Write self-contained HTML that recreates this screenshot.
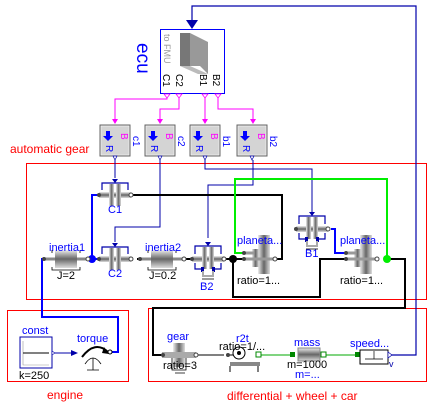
<!DOCTYPE html>
<html><head><meta charset="utf-8"><style>
body{margin:0;background:#fff}
svg{display:block;font-family:"Liberation Sans",sans-serif}
</style></head><body>
<svg width="433" height="406" viewBox="0 0 433 406" xmlns="http://www.w3.org/2000/svg">
<defs>
<linearGradient id="cyl" x1="0" y1="0" x2="0" y2="1"><stop offset="0" stop-color="#eee"/><stop offset="0.5" stop-color="#666"/><stop offset="1" stop-color="#ddd"/></linearGradient>
<linearGradient id="cylh" x1="0" y1="0" x2="1" y2="0"><stop offset="0" stop-color="#eee"/><stop offset="0.5" stop-color="#666"/><stop offset="1" stop-color="#ddd"/></linearGradient>
<g id="clutch">
<rect x="-16" y="-3" width="32" height="6" fill="url(#cyl)"/>
<rect x="-6" y="-11" width="5" height="22" fill="url(#cylh)"/><rect x="1" y="-11" width="5" height="22" fill="url(#cylh)"/>
<path d="M-13,-5 V-12 H13 V-5" fill="none" stroke="#00a" stroke-width="1.2"/>
<path d="M-3,-16 h6 l-3,4z" fill="#00a"/>
<circle cx="-16" cy="0" r="2" fill="#444"/><circle cx="16" cy="0" r="2" fill="#fff" stroke="#444"/>
</g>
<g id="brake">
<rect x="-16" y="-3" width="32" height="6" fill="url(#cyl)"/>
<rect x="-6" y="-12" width="5" height="22" fill="url(#cylh)"/><rect x="1" y="-12" width="5" height="22" fill="url(#cylh)"/>
<path d="M-13,-5 V-13 H13 V-5 M-13,4 V10 H-5 M13,4 V10 H5" fill="none" stroke="#00a" stroke-width="1.2"/>
<rect x="-7" y="8" width="3" height="5" fill="#00a"/><rect x="4" y="8" width="3" height="5" fill="#00a"/>
<path d="M-3,-17 h6 l-3,4z" fill="#00a"/>
<path d="M-5,12 V17 H5 V12" fill="none" stroke="#aaa" stroke-width="2"/>
<path d="M-6,20 h12" stroke="#000" stroke-width="0.8"/>
<circle cx="-16" cy="0" r="2" fill="#444"/><circle cx="16" cy="0" r="2" fill="#fff" stroke="#444"/>
</g>
<g id="inertia">
<rect x="-22" y="-1.5" width="44" height="3" fill="#888"/>
<rect x="-11" y="-9" width="22" height="18" fill="url(#cyl)"/>
<path d="M-14,8 V11 H14 V8 M-14,-9 v3 M14,-9 v3" fill="none" stroke="#000" stroke-width="0.8"/>
<circle cx="-22" cy="0" r="2" fill="#444"/><circle cx="22" cy="0" r="2" fill="#fff" stroke="#444"/>
</g>
<g id="planet">
<rect x="-2" y="-24" width="12" height="39" fill="url(#cylh)"/>
<rect x="-8" y="-10" width="7" height="18" fill="url(#cylh)"/>
<rect x="-16" y="-1.5" width="30" height="3" fill="#999"/>
<rect x="-16" y="-7.5" width="10" height="3" fill="#999"/>
<circle cx="-16" cy="-6" r="2" fill="#444"/><circle cx="-16" cy="0" r="2" fill="#444"/><circle cx="15" cy="0" r="2" fill="#fff" stroke="#444"/>
</g>
<g id="ctrl">
<rect x="0" y="0" width="30" height="31" fill="#ccc" stroke="#666"/>
<rect x="1" y="1" width="28" height="29" fill="#d4d4d4" stroke="#fff" stroke-width="0.5"/>
<path d="M6,6 h4 v5 h3 l-5,5 l-5,-5 h3z" fill="#00f"/>
<text x="21" y="8" font-size="10" fill="#f0f" transform="rotate(90 21 8)">B</text>
<text x="6" y="20" font-size="10" fill="#00f" transform="rotate(90 6 20)">R</text>
<path d="M13,31 l2,4 l2,-4z" fill="#fff" stroke="#00a" stroke-width="0.7"/>
</g>
</defs>

<rect x="26.5" y="163.5" width="400" height="136" fill="none" stroke="#f00"/>
<rect x="7.5" y="310.5" width="121" height="71" fill="none" stroke="#f00"/>
<rect x="148.5" y="308.5" width="278" height="73" fill="none" stroke="#f00"/>
<text x="10" y="153" font-size="12" fill="#f00">automatic gear</text>
<text x="47" y="399" font-size="12" fill="#f00">engine</text>
<text x="227" y="400" font-size="12" fill="#f00">differential + wheel + car</text>

<path d="M390,355 H416 V6 H192 V22" fill="none" stroke="#00a" stroke-width="1.2"/>
<path d="M186,20 h12 l-6,9z" fill="#00a"/>

<rect x="160.5" y="29.5" width="64" height="64" fill="#fff" stroke="#00f"/>
<path d="M180,33 h10 l18,9 v32 l-8,-8 h-20z" fill="#999"/>
<path d="M180,33 h10 v33 h-10z" fill="#777"/>
<path d="M180,66 h10 l18,8 h-10z" fill="#bbb"/>
<text x="164" y="34" font-size="9" fill="#999" transform="rotate(90 164 34)">to FMU</text>
<g font-size="10" fill="#000">
<text x="163" y="74" transform="rotate(90 163 74)">C1</text>
<text x="176" y="74" transform="rotate(90 176 74)">C2</text>
<text x="200" y="74" transform="rotate(90 200 74)">B1</text>
<text x="213" y="74" transform="rotate(90 213 74)">B2</text>
</g>
<text x="137" y="43" font-size="19" fill="#00f" transform="rotate(90 137 43)">ecu</text>
<g fill="#fff" stroke="#f0f" stroke-width="0.8">
<path d="M164,94 l3,4 l3,-4z"/><path d="M176,94 l3,4 l3,-4z"/><path d="M202,94 l3,4 l3,-4z"/><path d="M215,94 l3,4 l3,-4z"/>
</g>
<g fill="none" stroke="#f0f" stroke-width="1">
<path d="M167,98 V99 H115 V121"/><path d="M179,98 V109 H160 V121"/><path d="M205,98 V121"/><path d="M218,98 V109 H253 V121"/>
</g>
<g fill="#f0f"><path d="M112,119 h6 l-3,5z"/><path d="M157,119 h6 l-3,5z"/><path d="M202,119 h6 l-3,5z"/><path d="M250,119 h6 l-3,5z"/></g>
<use href="#ctrl" x="100" y="125"/><use href="#ctrl" x="145" y="125"/><use href="#ctrl" x="190" y="125"/><use href="#ctrl" x="237" y="125"/>
<g font-size="10" fill="#00f">
<text x="133" y="136" transform="rotate(90 133 136)">c1</text>
<text x="178" y="136" transform="rotate(90 178 136)">c2</text>
<text x="223" y="136" transform="rotate(90 223 136)">b1</text>
<text x="270" y="136" transform="rotate(90 270 136)">b2</text>
</g>

<g fill="none" stroke="#00a" stroke-width="1">
<path d="M115,160 V178"/><path d="M160,160 V227 H115 V242"/><path d="M205,160 V169 H312 V212"/><path d="M253,160 V185 H208 V238"/>
</g>

<g fill="none" stroke="#000" stroke-width="2">
<path d="M131,195 H282 V259 H275"/>
<path d="M233,259 V297 H320 V259 H345"/>
<path d="M387,259 H405 V308 H153 V355 H162"/>
<path d="M137,259 H142 M184,259 H192 M224,259 H244"/>
</g>
<g fill="none" stroke="#0e0" stroke-width="2"><path d="M244,253 H235 V179 H387 V259"/></g>
<circle cx="387" cy="259" r="4" fill="#0e0"/>
<g fill="none" stroke="#00f" stroke-width="2">
<path d="M44,259 H42 V317 H118 V352 H110"/>
<path d="M99,259 H92 V195 H99"/>
<path d="M331,229 H335 V253 H347"/>
</g>
<circle cx="92" cy="259" r="4" fill="#00f"/>
<circle cx="233" cy="259" r="4" fill="#000"/>

<use href="#inertia" x="66" y="259"/>
<use href="#clutch" x="115" y="195"/>
<use href="#clutch" x="115" y="259"/>
<use href="#inertia" x="162" y="259"/>
<use href="#brake" x="208" y="259"/>
<use href="#planet" x="260" y="259"/>
<use href="#brake" x="312" y="229"/>
<use href="#planet" x="362" y="259"/>

<g font-size="11" fill="#00f">
<text x="49" y="251">inertia1</text>
<text x="108" y="213">C1</text>
<text x="108" y="277">C2</text>
<text x="145" y="251">inertia2</text>
<text x="200" y="290">B2</text>
<text x="237" y="244">planeta...</text>
<text x="305" y="257">B1</text>
<text x="340" y="244">planeta...</text>
</g>
<g font-size="11" fill="#000">
<text x="57" y="279">J=2</text>
<text x="149" y="279">J=0.2</text>
<text x="237" y="284">ratio=1...</text>
<text x="340" y="284">ratio=1...</text>
</g>

<rect x="20" y="337" width="32" height="31" fill="#fff" stroke="#00a"/>
<path d="M23,341 V365 H49" stroke="#999" stroke-width="0.6" fill="none"/>
<path d="M23,353 H49" stroke="#000"/>
<text x="22" y="334" font-size="11" fill="#00f">const</text>
<text x="19" y="379" font-size="11" fill="#000">k=250</text>
<path d="M53,353 H72" stroke="#00a"/>
<path d="M52,351 l3,2 l-3,2z" fill="#fff" stroke="#00a" stroke-width="0.6"/>
<path d="M71,350 l7,3 l-7,3z" fill="#00a"/>
<text x="77" y="342" font-size="11" fill="#00f">torque</text>
<path d="M82,357 Q95,340 108,352" fill="none" stroke="#000" stroke-width="2"/>
<path d="M104,347 l5,7 l-7,-1z" fill="#000"/>
<path d="M85,364 Q93,352 101,364 M93,358 V370 M87,370 h12" fill="none" stroke="#000" stroke-width="0.8"/>
<circle cx="110" cy="352" r="2" fill="#fff" stroke="#000"/>

<path d="M198,355 H224" stroke="#000"/>
<path d="M260,355 H290 M319,355 H360" stroke="#0a0" stroke-width="1"/>
<rect x="173" y="343" width="12" height="24" fill="url(#cylh)"/>
<rect x="162" y="352" width="34" height="6" fill="#aaa"/>
<path d="M172,358 V370 H186 V358 M175,373 h10" stroke="#000" fill="none" stroke-width="0.8"/>
<circle cx="163" cy="355" r="2" fill="#444"/><circle cx="196" cy="355" r="2" fill="#fff" stroke="#444"/>
<text x="167" y="340" font-size="11" fill="#00f">gear</text>
<text x="163" y="369" font-size="11" fill="#000">ratio=3</text>
<circle cx="239" cy="353" r="6" fill="#fff" stroke="#000"/><circle cx="239" cy="353" r="2" fill="#000"/>
<path d="M230,362 h30 v4 h-30z" fill="#888"/>
<path d="M226,355 H233 M230,366 V372 M258,366 V372" stroke="#000" fill="none"/>
<circle cx="228" cy="355" r="2" fill="#444"/><rect x="256" y="352" width="5" height="5" fill="#fff" stroke="#080"/>
<text x="236" y="342" font-size="11" fill="#00f">r2t</text>
<text x="219" y="350" font-size="11" fill="#000">ratio=1/...</text>
<rect x="290" y="352" width="5" height="5" fill="#080"/>
<rect x="298" y="348" width="22" height="13" fill="url(#cyl)" stroke="#888"/>
<rect x="321" y="352" width="5" height="5" fill="#fff" stroke="#080"/>
<text x="294" y="346" font-size="11" fill="#00f">mass</text>
<text x="287" y="368" font-size="11" fill="#000">m=1000</text>
<text x="295" y="378" font-size="11" fill="#00f">m=...</text>
<rect x="355" y="352" width="5" height="5" fill="#080"/>
<rect x="360" y="350" width="28" height="14" fill="#fff" stroke="#000"/>
<path d="M365,359 h18 M374,351 v8" stroke="#000" stroke-width="0.7"/>
<path d="M388,352 l4,3 l-4,3z" fill="#fff" stroke="#00a" stroke-width="0.7"/>
<text x="350" y="347" font-size="11" fill="#00f">speed...</text>
<text x="389" y="367" font-size="9" fill="#00a">v</text>
</svg>
</body></html>
